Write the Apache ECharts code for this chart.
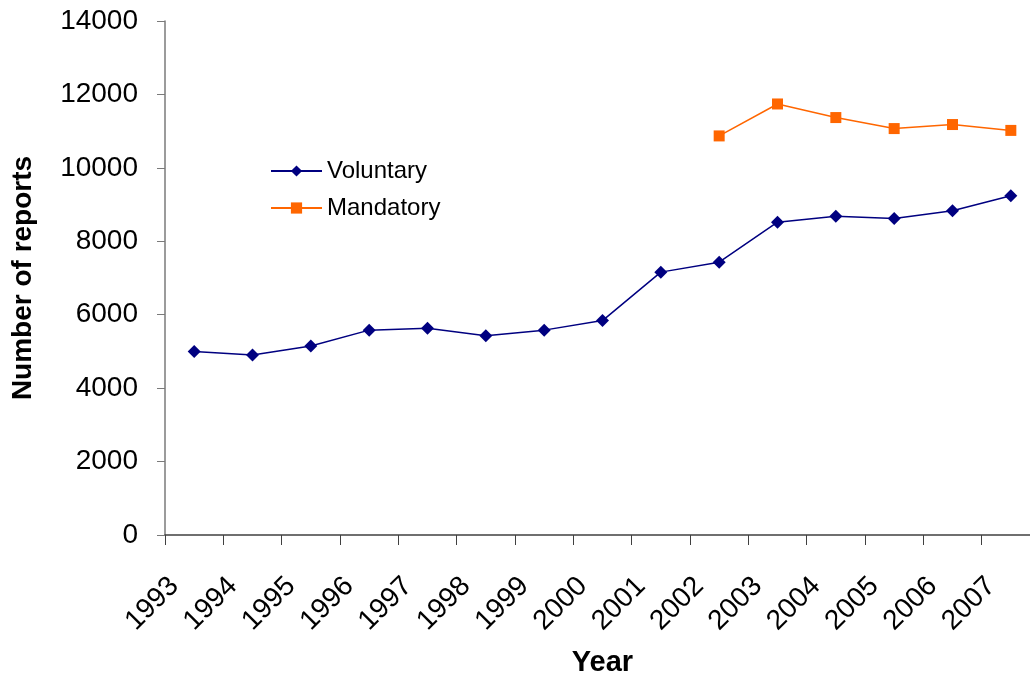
<!DOCTYPE html>
<html>
<head>
<meta charset="utf-8">
<title>Number of reports</title>
<script src="https://cdn.jsdelivr.net/npm/echarts@6.0.0/dist/echarts.min.js"></script>
<style>
  html, body { margin: 0; padding: 0; background: #fff; overflow: hidden; }
  /* a bit wider than the window: the plot runs past the right edge, as in the original */
  #chart { width: 1040px; height: 682px; }
</style>
</head>
<body>
<div id="chart"></div>
<script>
// data
var years = ['1993', '1994', '1995', '1996', '1997', '1998', '1999', '2000',
             '2001', '2002', '2003', '2004', '2005', '2006', '2007'];
var voluntary = [5000, 4900, 5150, 5580, 5630, 5430, 5580, 5840,
                 7160, 7430, 8520, 8680, 8620, 8830, 9240];
var mandatory = [null, null, null, null, null, null, null, null,
                 null, 10870, 11740, 11370, 11070, 11180, 11020];
var yTicks = { min: 0, max: 14000, step: 2000 };

var font = '"Liberation Sans", Arial, sans-serif';

var chart = echarts.init(document.getElementById('chart'));
chart.setOption({
    backgroundColor: '#fff',
    animation: false,
    grid: { left: 165, top: 21, right: 0, bottom: 146 },
    legend: {
        orient: 'vertical',
        left: 270,
        top: 159,
        padding: 0,
        itemWidth: 51,
        itemHeight: 14,
        itemGap: 13,
        textStyle: { fontFamily: font, fontSize: 24, color: '#000' },
        data: ['Voluntary', 'Mandatory']
    },
    xAxis: {
        type: 'category',
        data: years,
        boundaryGap: true,
        name: 'Year',
        nameLocation: 'middle',
        nameGap: 113,
        nameTextStyle: { fontFamily: font, fontSize: 29, fontWeight: 'bold', color: '#000' },
        axisLine: { lineStyle: { color: '#404040', width: 1.5 } },
        axisTick: { show: true, length: 10, interval: 0, lineStyle: { color: '#404040' } },
        axisLabel: {
            interval: 0,
            rotate: 45,
            margin: 27,
            padding: [0, 28, 0, 0],
            fontFamily: font,
            fontSize: 28,
            color: '#000'
        },
        splitLine: { show: false }
    },
    yAxis: {
        type: 'value',
        min: yTicks.min,
        max: yTicks.max,
        interval: yTicks.step,
        name: 'Number of reports',
        nameLocation: 'middle',
        nameGap: 128,
        nameTextStyle: { fontFamily: font, fontSize: 28, fontWeight: 'bold', color: '#000' },
        axisLine: { show: true, lineStyle: { color: '#7a7a7a', width: 1.5 } },
        axisTick: { show: true, length: 8, lineStyle: { color: '#7a7a7a' } },
        axisLabel: {
            margin: 27,
            fontFamily: font,
            fontSize: 28,
            color: '#000',
            formatter: function (v) { return String(v); }
        },
        splitLine: { show: false }
    },
    series: [
        {
            name: 'Voluntary',
            type: 'line',
            data: voluntary,
            symbol: 'diamond',
            symbolSize: 13,
            color: '#000080',
            lineStyle: { color: '#000080', width: 1.5 },
            itemStyle: { color: '#000080' }
        },
        {
            name: 'Mandatory',
            type: 'line',
            data: mandatory,
            symbol: 'rect',
            symbolSize: 11,
            color: '#ff6600',
            lineStyle: { color: '#ff6600', width: 1.5 },
            itemStyle: { color: '#ff6600' }
        }
    ]
});
</script>
</body>
</html>
